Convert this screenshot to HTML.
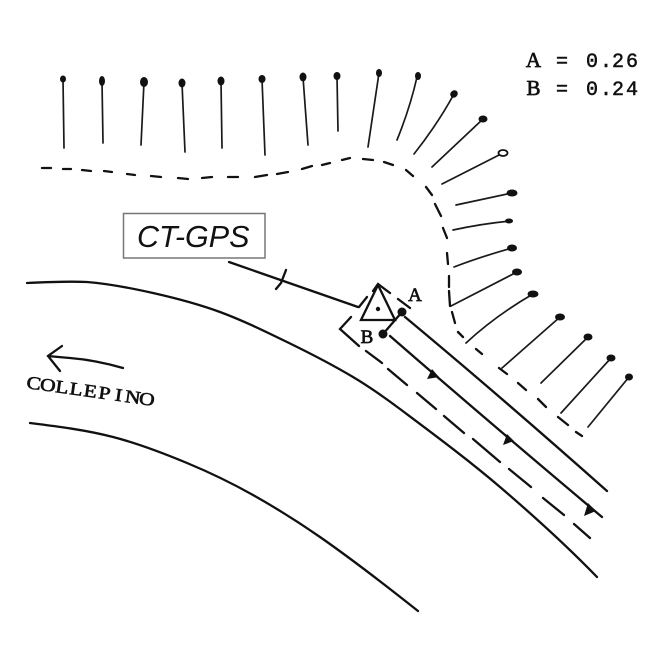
<!DOCTYPE html>
<html><head><meta charset="utf-8"><style>
html,body{margin:0;padding:0;background:#fff}
svg{display:block}
</style></head><body>
<svg width="649" height="649" viewBox="0 0 649 649" xmlns="http://www.w3.org/2000/svg">
<rect width="649" height="649" fill="#fff"/>
<g stroke="#1a1a1a" stroke-width="1.700" fill="none" stroke-linecap="round">
<path d="M63 79L64 148M102 81L103 143M144 82L141 145M182 83L185 152M221 81L222 148M262 79L265 155M303 77L308 145M337 76L338 131M379 73L368 147M417 77Q410 108 397 140M454 94Q437 125 414 154M483 119L432 167M503 153L442 184M512 193L456 205M510 221Q480 224 453 230M512 248Q480 257 454 267M517 272L451 306M533 294Q495 316 466 343M560 317L502 368M588 337L541 383M611 358L561 413M629 377L588 427"/>
</g>
<g fill="#111">
<ellipse cx="63" cy="79" rx="3" ry="3.500"/><ellipse cx="102" cy="81" rx="3" ry="5"/><ellipse cx="144" cy="82" rx="4" ry="5"/><ellipse cx="182" cy="83" rx="3.500" ry="4.500"/><ellipse cx="221" cy="81" rx="3.500" ry="4.500"/><ellipse cx="262" cy="79" rx="3.500" ry="4"/><ellipse cx="303" cy="77" rx="3.500" ry="4.500"/><ellipse cx="337" cy="76" rx="3.500" ry="4"/><ellipse cx="379" cy="73" rx="3" ry="4"/><ellipse cx="418" cy="76" rx="3" ry="4"/><ellipse cx="454" cy="94" rx="4" ry="3.500" transform="rotate(-45 454 94)"/><ellipse cx="483" cy="119" rx="4.500" ry="3.500"/><ellipse cx="503" cy="153" rx="4.500" ry="3" fill="#fff" stroke="#111" stroke-width="1.800"/><ellipse cx="512" cy="193" rx="5.500" ry="3.500"/><ellipse cx="509" cy="221" rx="4" ry="2.500"/><ellipse cx="512" cy="248" rx="5" ry="3.500"/><ellipse cx="517" cy="272" rx="5" ry="3.500"/><ellipse cx="533" cy="294" rx="5.500" ry="3.500"/><ellipse cx="560" cy="317" rx="5" ry="3.500"/><ellipse cx="588" cy="337" rx="4.500" ry="3.500"/><ellipse cx="611" cy="358" rx="4.500" ry="3.500"/><ellipse cx="629" cy="377" rx="4" ry="3.500"/>
</g>
<g stroke="#111" stroke-width="2.300" fill="none" stroke-linecap="round">
<path d="M42 168L51 168M63 169L71 169M82 170L91 171M104 171L112 172M127 174L135 175M151 176L161 177M178 178L188 179M202 178L212 177M228 177L238 177M255 177L267 175M277 174L288 172M302 169L312 166M322 165L330 163M342 160L350 158M363 159L373 160M384 162L393 165M406 170L413 176M426 187L432 195M435 204L441 216M443 228L447 238M447 253L448 264M449 276L449 287M449 291L450 306M452 312L455 323M458 332L463 337M476 349L482 354M499 368L507 374M518 383L526 390M538 399L546 407M558 417L568 425M576 432L582 436"/>
<path d="M351 317L340 329L359 346M366 351L382 363M388 369L407 385M417 393L436 409M444 416L464 433M473 439L500 462M509 469L531 487M543 498L564 515M574 524L590 538"/>
<path d="M405 317Q500 396 607 491"/>
<path d="M390 336Q490 423 602 517"/>
<path d="M27 283C47 282 67 281 87 282C108 283.700 130.800 288 153 293C175.200 298 197.700 303.800 220 312C242.300 320.200 264.800 331.200 287 342C309.200 352.800 331.500 364.200 353 377C369.300 386.700 384.800 397.600 400 409C433.600 434.200 468 459.700 500 487C533.400 515.600 566 545 597 577"/>
<path d="M30 423C58 426.500 86 430 113 437C138.200 443.500 163 453 187 463C209 472.100 232 483.200 253 495C275.600 507.700 298.700 522.200 320 537C353.600 560.400 386 585.600 418 611"/>
<path d="M229 262L358 307M276 289L281 283L286 270M359 307L367 297M373 291L378 284L390 293M398 299L410 308M402 312L383 334"/>
<path d="M378 285L361 320H395Z" stroke-linejoin="miter"/>
<path d="M123 368Q95 360 70 358Q58 357 48 356M62 346L48 356L60 371"/>
</g>
<g fill="#111">
<circle cx="378" cy="309" r="2.200"/><circle cx="402" cy="312" r="4.500"/><circle cx="383" cy="334" r="4.500"/>
<path d="M427 379L432 369L439 377Z M503 445L507 434L514 441Z M584 516L588 503L596 511Z"/>
</g>
<rect x="123.500" y="213.500" width="141.500" height="44.500" fill="#fff" stroke="#777" stroke-width="1.500"/>
<text x="137" y="247" font-family="Liberation Sans,sans-serif" font-style="italic" font-size="30.500" fill="#111">CT-GPS</text>
<g fill="#111" stroke="#111" text-anchor="middle">
<text y="67" font-size="21" stroke-width=".7" font-family="Liberation Serif,serif" x="533.500">A</text>
<text y="67" font-size="20" stroke-width=".5" font-family="Liberation Mono,monospace" x="562 592 606 618 632">=0.26</text>
<text y="95" font-size="21" stroke-width=".7" font-family="Liberation Serif,serif" x="533.500">B</text>
<text y="95" font-size="20" stroke-width=".5" font-family="Liberation Mono,monospace" x="562 592 606 618 632">=0.24</text>
<text x="415" y="301" font-size="19" stroke-width=".7" font-family="Liberation Serif,serif">A</text>
<text x="367" y="343" font-size="19" stroke-width=".7" font-family="Liberation Serif,serif">B</text>
<text transform="translate(33 389) rotate(8) scale(1.200 1)" font-size="18" stroke-width=".6" font-family="Liberation Serif,serif" x="0 11.900 23.800 35.700 47.600 59.500 71.400 83.300 95.200">COLLEPINO</text>
</g>
</svg>
</body></html>
